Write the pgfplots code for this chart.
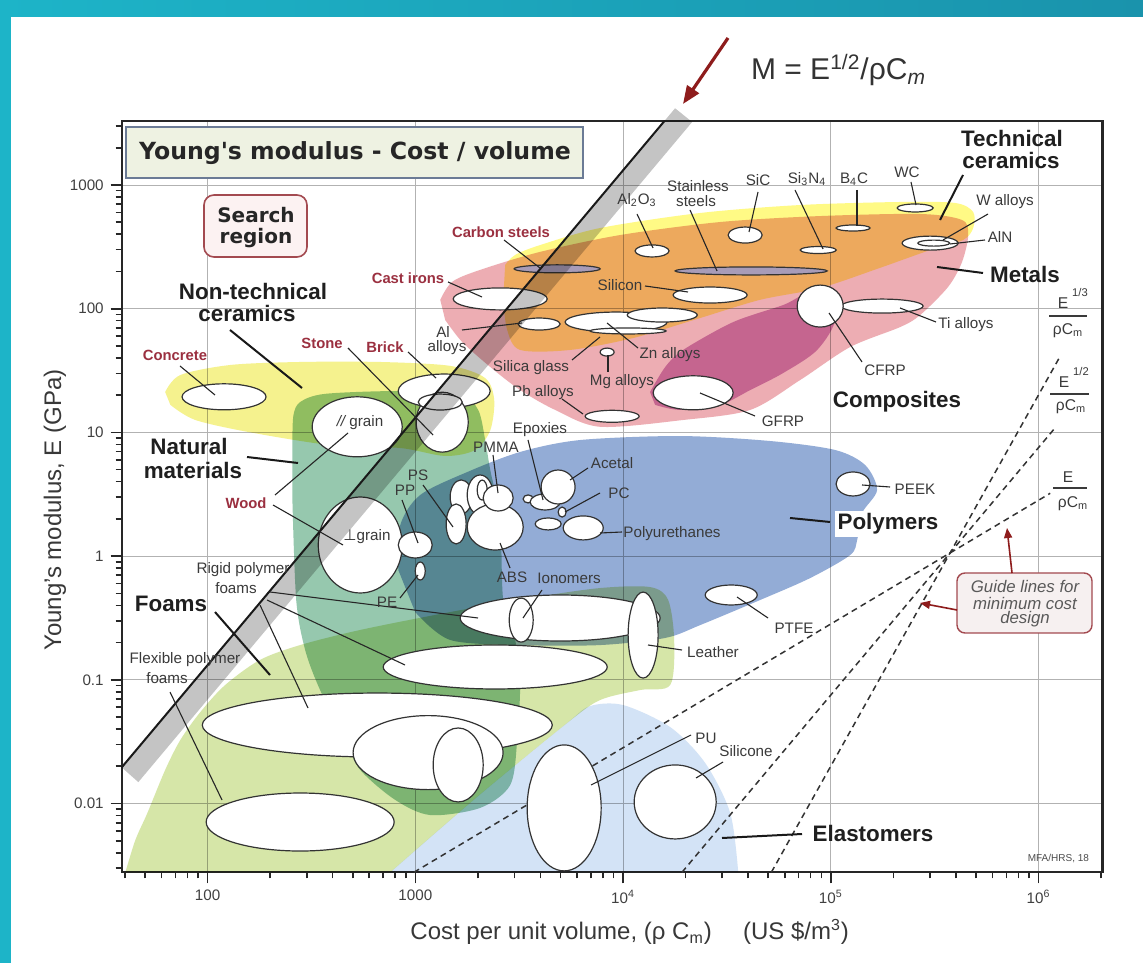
\documentclass[border=0pt]{standalone}
\usepackage{fontspec}
\setmainfont{Liberation Sans}
\newfontfamily\djv{DejaVu Sans}
\usepackage{pgfplots}
\pgfplotsset{compat=1.18}
\usetikzlibrary{arrows.meta}

\definecolor{teal1}{HTML}{1DB4C8}
\definecolor{teal2}{HTML}{1A93AC}
\definecolor{ntcer}{HTML}{F5F28E}
\definecolor{natur}{HTML}{96C8AE}
\definecolor{foam}{HTML}{D6E6A8}
\definecolor{polym}{HTML}{93ACD6}
\definecolor{elast}{HTML}{D3E3F6}
\definecolor{metal}{HTML}{EDADB3}
\definecolor{tcer}{HTML}{FFFA85}
\definecolor{compo}{HTML}{D596CC}
\definecolor{band}{HTML}{C4C4C4}
\definecolor{ellc}{HTML}{333333}
\definecolor{lbl}{HTML}{3A3A3A}
\definecolor{redlbl}{HTML}{9B3040}
\definecolor{arrowred}{HTML}{8E1C1C}
\definecolor{boxred}{HTML}{A34A50}
\definecolor{titlebg}{HTML}{EEF2E2}
\definecolor{titlebd}{HTML}{6B7B95}
\definecolor{searchbg}{HTML}{FCF2F2}
\definecolor{guidebg}{HTML}{F6F0F0}
\definecolor{steelfill}{HTML}{A89CB8}

% elliptical bubble mark; half-axes (pt) come from /bub/rx and /bub/ry
\pgfkeys{/bub/rx/.initial=5, /bub/ry/.initial=5}
\pgfdeclareplotmark{ell}{%
  \pgfpathellipse{\pgfpointorigin}%
    {\pgfqpoint{\pgfkeysvalueof{/bub/rx}pt}{0pt}}%
    {\pgfqpoint{0pt}{\pgfkeysvalueof{/bub/ry}pt}}%
  \pgfusepathqfillstroke}
% \bub[fill]{cost}{modulus}{rx}{ry}
\newcommand{\bub}[5][white]{%
  \addplot[only marks, mark=ell, /bub/rx=#4, /bub/ry=#5,
    mark options={draw=ellc, fill=#1, line width=0.6pt}] coordinates {(#2,#3)};}

\begin{document}
\begin{tikzpicture}
\useasboundingbox (0,0) rectangle (571.5pt,481.5pt);
\fill[white] (0,0) rectangle (571.5pt,481.5pt);
\begin{scope}[shift={(0pt,481.5pt)}, x=0.5pt, y=-0.5pt]
  \fill[teal1] (0,0) rectangle (11,963);
  \shade[left color=teal1, right color=teal2] (0,0) rectangle (1143,17);
\end{scope}

\begin{axis}[
  at={(60.85pt,45.35pt)}, anchor=south west,
  scale only axis, width=490.35pt, height=375.8pt,
  xmode=log, ymode=log,
  xmin=38.6, xmax=2.03e6, ymin=0.00278, ymax=3310,
  axis line style={line width=1.1pt, black!85},
  tick align=outside, tick pos=left,
  major tick length=5.5pt, minor tick length=3pt,
  every tick/.style={black!85, line width=0.8pt},
  xtick={100,1000,10000,100000,1000000},
  xticklabels={100,1000,10\textsuperscript{4},10\textsuperscript{5},10\textsuperscript{6}},
  minor xtick={40,50,60,70,80,90,200,300,400,500,600,700,800,900,2000,3000,4000,5000,6000,7000,8000,9000,20000,30000,40000,50000,60000,70000,80000,90000,200000,300000,400000,500000,600000,700000,800000,900000,2000000},
  ytick={0.01,0.1,1,10,100,1000},
  yticklabels={0.01,0.1,1,10,100,1000},
  minor ytick={0.003,0.004,0.005,0.006,0.007,0.008,0.009,0.02,0.03,0.04,0.05,0.06,0.07,0.08,0.09,0.2,0.3,0.4,0.5,0.6,0.7,0.8,0.9,2,3,4,5,6,7,8,9,20,30,40,50,60,70,80,90,200,300,400,500,600,700,800,900,2000,3000},
  grid=major, major grid style={black!30, line width=0.4pt},
  tick label style={font=\fontsize{7.6}{8}\selectfont, text=black!75},
  xlabel={Cost per unit volume, (ρ C\textsubscript{m})\hspace{1.3em}(US \$/m\textsuperscript{3})},
  ylabel={Young's modulus, E (GPa)},
  label style={font=\fontsize{12}{13}\selectfont, text=black!78},
  xlabel style={at={(axis description cs:0.518,-0.0794)}, anchor=center},
  ylabel style={at={(axis description cs:-0.068,0.482)}, anchor=center},
]
% material family envelopes
\addplot[draw=none, fill=ntcer, blend mode=multiply, smooth, tension=0.5] coordinates {
(62.5,21.2) (73.9,29.1) (129,35.1) (279,37.1) (678,37.1) (1472,34.5) (2169,27.5) (2397,18.3) (2294,10.4) (1941,7.21) (1393,6.45) (846,7.48) (389,7.91) (161,10.0) (87.3,12.6) (66.2,16.7)} -- cycle;
\addplot[draw=none, fill=natur, blend mode=multiply, smooth, tension=0.5] coordinates {
(256,8.68) (259,13.8) (279,17.6) (368,20.5) (846,21.6) (1644,20.1) (2007,15.2) (2169,8.68) (2294,4.97) (2562,1.96) (2648,0.442) (3024,0.210) (3197,0.0996) (3093,0.0326) (2862,0.0141) (2052,0.00922) (1180,0.00807) (800,0.0107) (543,0.0187) (460,0.0326) (348,0.0827) (295,0.174) (267,0.442) (256,2.84)} -- cycle;
\addplot[draw=none, fill=foam, blend mode=multiply, smooth, tension=0.5] coordinates {
(40.2,0.00278) (44.9,0.00507) (51.3,0.00838) (62.5,0.0187) (73.9,0.0326) (92.3,0.0549) (121.5,0.0908) (179,0.145) (279,0.191) (543,0.253) (1472,0.353) (3572,0.459) (7760,0.552) (13490,0.562) (16480,0.442) (17620,0.210) (16860,0.0908) (12080,0.0827) (7760,0.0687) (5380,0.0448) (2007,0.0115) (757,0.00278)} -- cycle;
\addplot[draw=none, fill=elast, blend mode=multiply, smooth, tension=0.5] coordinates {
(757,0.00278) (2007,0.0115) (5380,0.0448) (6950,0.0614) (10010,0.0625) (16860,0.0415) (24830,0.0213) (32800,0.00838) (35840,0.00278)} -- cycle;
\addplot[draw=none, fill=polym, blend mode=multiply, smooth, tension=0.5] coordinates {
(828,0.772) (846,1.78) (1056,3.12) (1782,4.79) (3197,6.95) (6220,8.68) (18830,9.35) (51050,8.52) (104900,7.21) (146300,5.45) (167000,3.42) (141500,2.23) (133900,1.35) (123900,1.02) (79600,0.665) (45700,0.442) (23500,0.277) (15960,0.218) (7760,0.191) (3197,0.191) (1472,0.210) (999,0.353)} -- cycle;
\addplot[draw=none, fill=metal, blend mode=multiply, smooth, tension=0.5] coordinates {
(1318,118) (1505,165) (2052,206) (3990,288) (9680,394) (29330,502) (88900,561) (269200,583) (428400,521) (458600,394) (428400,239) (367000,150) (269200,88.9) (215800,71.1) (123900,49.0) (71150,26.5) (40930,15.2) (19460,12.6) (7760,11.1) (4710,15.2) (3197,22.0) (2294,33.8) (1681,53.8) (1393,81.0)} -- cycle;
\addplot[draw=none, fill=tcer, blend mode=multiply, smooth, tension=0.5] coordinates {
(2707,226) (3024,272) (3990,327) (7760,449) (23500,594) (71150,689) (215800,729) (396500,716) (484600,605) (484600,449) (433200,359) (300700,298) (172700,214) (88900,147) (45700,118) (23500,84.1) (11170,57.9) (5562,46.4) (3197,46.4) (2768,67.3) (2648,118)} -- cycle;
\addplot[draw=none, fill=compo, blend mode=multiply, smooth, tension=0.5] coordinates {
(13490,21.2) (15960,33.8) (19460,46.4) (33910,78.0) (58950,107) (81380,134) (104900,84.1) (86000,46.4) (58950,30.2) (40930,22.0) (29330,16.7) (18830,15.2) (14260,16.7)} -- cycle;

% guide lines for minimum cost design
\addplot[black!80, line width=0.75pt, dash pattern=on 3pt off 2.2pt] coordinates {(984,0.00278) (1138000,3.22)};
\addplot[black!80, line width=0.75pt, dash pattern=on 3pt off 2.2pt] coordinates {(19210,0.00278) (1200000,10.86)};
\addplot[black!80, line width=0.75pt, dash pattern=on 3pt off 2.2pt] coordinates {(51730,0.00278) (1269000,41.1)};

% material bubbles: cost (US$/m^3), modulus (GPa), half-axes (pt)
\bub{120}{19.4}{21}{6.5}
\bub{1377}{21.6}{23}{8.5}
\bub{1347}{12.1}{13}{15}
\bub{1318}{17.6}{11}{4}
\bub{525}{11.1}{22.5}{15}
\bub{543}{1.23}{21}{24}
\bub{999}{1.23}{8.5}{6.5}
\bub{1056}{0.758}{2.5}{4.5}
\bub{1662}{3.01}{5.5}{8.5}
\bub{2052}{3.12}{6.5}{10}
\bub{2424}{1.72}{14}{11.5}
\bub{1572}{1.82}{5}{10}
\bub{2098}{3.42}{2.5}{5}
\bub{2505}{2.95}{7.5}{6.5}
\bub{3491}{2.90}{2.5}{2}
\bub{4216}{2.74}{7.5}{4}
\bub{4867}{3.62}{8.5}{8.5}
\bub{4360}{1.82}{6.5}{3}
\bub{5090}{2.27}{2}{2.5}
\bub{6430}{1.69}{10}{6}
\bub{4979}{0.316}{50}{11.5}
\bub{3233}{0.304}{6}{11}
\bub{12490}{0.230}{7.5}{21.5}
\bub{33160}{0.485}{13}{5}
\bub{128000}{3.83}{8.5}{6}
\bub{2424}{0.127}{56}{11}
\bub{656}{0.0431}{87.5}{16}
\bub{1152}{0.0258}{37.5}{18.5}
\bub{1608}{0.0205}{12.5}{18.5}
\bub{279}{0.00709}{47}{14.5}
\bub{5205}{0.00922}{18.5}{31.5}
\bub{17820}{0.0103}{20.5}{18.5}
\bub{2562}{120}{23.5}{5.5}
\bub{13790}{293}{8.5}{3}
\bub{38700}{394}{8.5}{4}
\bub{26250}{129}{18.5}{4}
\bub{3946}{75.2}{10.5}{3}
\bub{9260}{78.0}{25.5}{5}
\bub{15440}{88.9}{17.5}{3.5}
\bub{10570}{66.1}{19}{1.5}
\bub{8380}{44.6}{3.5}{2}
\bub{8860}{13.5}{13.5}{3}
\bub{21750}{20.9}{20}{8.5}
\bub{176600}{105}{20.5}{3.5}
\bub{88900}{105}{11.5}{10.5}
\bub{86960}{298}{9}{1.75}
\bub{128000}{449}{8.5}{1.5}
\bub{254700}{652}{9}{2}
\bub{300700}{339}{14}{3.5}
\bub{313000}{339}{8}{1.5}
\bub[steelfill]{4816}{210}{21.5}{2}
\bub[steelfill]{41380}{202}{38}{2}
\end{axis}

% index line M = E^{1/2}/(rho C_m) with its band
\begin{axis}[
  at={(60.85pt,45.35pt)}, anchor=south west,
  scale only axis, width=490.35pt, height=375.8pt,
  xmode=log, ymode=log,
  xmin=38.6, xmax=2.03e6, ymin=0.00278, ymax=3310,
  hide axis, clip=false]
\addplot[draw=none, fill=band, blend mode=multiply] coordinates {(38.6,0.0196) (17800,4169) (21500,3230) (46.4,0.0149)} -- cycle;
\addplot[black!90, line width=1pt] coordinates {(38.6,0.0196) (15870,3310)};
\end{axis}

% annotations
\begin{scope}[shift={(0pt,481.5pt)}, x=0.5pt, y=-0.5pt,
  mat/.style={font=\fontsize{7.6}{8.4}\selectfont, text=lbl, inner sep=0.5pt},
  red/.style={font=\fontsize{7.4}{8}\selectfont\bfseries, text=redlbl, inner sep=0.5pt},
  grp/.style={font=\fontsize{11.2}{12}\selectfont\bfseries, text=black!88, inner sep=0.5pt},
  ld/.style={draw=black!85, line width=0.55pt},
  gl/.style={draw=black!90, line width=1pt}]

% title and search region
\draw[titlebd, line width=0.8pt, fill=titlebg] (126,127) rectangle (583,178);
\node[font=\djv\bfseries\fontsize{11.8}{12}\selectfont, text=black!85] at (355,153) {Young's modulus - Cost / volume};
\draw[boxred, line width=0.8pt, fill=searchbg, rounded corners=5pt] (204,195) rectangle (307,257);
\node[font=\djv\bfseries\fontsize{10}{11}\selectfont, text=black!85] at (256,215) {Search};
\node[font=\djv\bfseries\fontsize{10}{11}\selectfont, text=black!85] at (256,238) {region};

% index label and arrow
\draw[arrowred, line width=1.6pt, -{Triangle[length=9pt,width=7pt]}] (728,38) -- (683,104);
\node[anchor=base west, font=\fontsize{15}{16}\selectfont, text=black!80] at (744,80) {M = E\textsuperscript{1/2}/ρC\textsubscript{\itshape m}};

% leader lines
\draw[ld] (180,366) -- (215,395);
\draw[ld] (348,348) -- (433,435);
\draw[ld] (408,352) -- (436,378);
\draw[ld] (462,330) -- (522,323);
\draw[ld] (448,282) -- (482,297);
\draw[ld] (504,240) -- (540,268);
\draw[ld] (637,214) -- (653,248);
\draw[ld] (690,210) -- (717,271);
\draw[ld] (758,192) -- (749,232);
\draw[ld] (795,190) -- (823,249);
\draw[ld] (857,190) -- (857,226);
\draw[ld] (911,182) -- (916,205);
\draw[ld] (988,214) -- (943,240);
\draw[ld] (985,240) -- (950,244);
\draw[ld] (936,322) -- (900,308);
\draw[ld] (862,362) -- (829,313);
\draw[ld] (645,286) -- (688,292);
\draw[ld] (638,348) -- (607,323);
\draw[ld] (572,360) -- (600,337);
\draw[ld] (608,372) -- (608,355);
\draw[ld] (562,399) -- (583,414);
\draw[ld] (755,416) -- (700,393);
\draw[ld] (890,487) -- (862,485);
\draw[ld] (768,618) -- (737,597);
\draw[ld] (682,650) -- (648,645);
\draw[ld] (542,590) -- (523,618);
\draw[ld] (510,568) -- (500,543);
\draw[ld] (493,455) -- (498,493);
\draw[ld] (528,440) -- (543,500);
\draw[ld] (588,468) -- (570,480);
\draw[ld] (600,493) -- (565,512);
\draw[ld] (622,532) -- (600,533);
\draw[ld] (423,485) -- (453,527);
\draw[ld] (402,500) -- (418,543);
\draw[ld] (400,598) -- (418,575);
\draw[ld] (275,495) -- (348,433);
\draw[ld] (273,505) -- (343,545);
\draw[ld] (270,592) -- (478,618);
\draw[ld] (267,600) -- (405,665);
\draw[ld] (260,605) -- (308,708);
\draw[ld] (170,692) -- (222,800);
\draw[ld] (691,735) -- (591,785);
\draw[ld] (723,762) -- (696,778);
\draw[gl] (230,330) -- (302,388);
\draw[gl] (247,457) -- (298,463);
\draw[gl] (215,612) -- (270,675);
\draw[gl] (963,175) -- (940,220);
\draw[gl] (983,273) -- (937,267);
\draw[gl] (830,522) -- (790,518);
\draw[gl] (722,838) -- (802,834);

% family names
\node[grp] at (1012,139) {Technical};
\node[grp] at (1011,161) {ceramics};
\node[grp] at (1025,275) {Metals};
\node[grp] at (897,402) {Composites};
\node[grp, fill=white, inner sep=1.5pt] at (888,524) {Polymers};
\node[grp] at (253,292) {Non-technical};
\node[grp] at (247,314) {ceramics};
\node[grp] at (189,446) {Natural};
\node[grp] at (193,470) {materials};
\node[grp] at (171,604) {Foams};
\node[grp] at (873,833) {Elastomers};

% material names
\node[mat] at (637,200) {Al\textsubscript{2}O\textsubscript{3}};
\node[mat] at (698,186) {Stainless};
\node[mat] at (696,201) {steels};
\node[mat] at (758,180) {SiC};
\node[mat] at (807,179) {Si\textsubscript{3}N\textsubscript{4}};
\node[mat] at (854,179) {B\textsubscript{4}C};
\node[mat] at (907,172) {WC};
\node[mat] at (1005,202) {W alloys};
\node[mat] at (1000,237) {AlN};
\node[mat] at (620,285) {Silicon};
\node[mat] at (670,355) {Zn alloys};
\node[mat] at (531,368) {Silica glass};
\node[mat] at (622,382) {Mg alloys};
\node[mat] at (543,393) {Pb alloys};
\node[mat] at (443,332) {Al};
\node[mat] at (447,348) {alloys};
\node[mat] at (966,325) {Ti alloys};
\node[mat] at (885,370) {CFRP};
\node[mat] at (783,421) {GFRP};
\node[mat] at (915,489) {PEEK};
\node[mat] at (794,628) {PTFE};
\node[mat] at (713,652) {Leather};
\node[mat] at (569,578) {Ionomers};
\node[mat] at (512,577) {ABS};
\node[mat] at (496,447) {PMMA};
\node[mat] at (540,430) {Epoxies};
\node[mat] at (612,463) {Acetal};
\node[mat] at (619,493) {PC};
\node[mat] at (672,534) {Polyurethanes};
\node[mat] at (418,475) {PS};
\node[mat] at (405,490) {PP};
\node[mat] at (387,602) {PE};
\node[mat] at (243,570) {Rigid polymer};
\node[mat] at (236,588) {foams};
\node[mat] at (185,660) {Flexible polymer};
\node[mat] at (167,678) {foams};
\node[mat] at (706,738) {PU};
\node[mat] at (746,751) {Silicone};
\node[mat] at (360,423) {{\itshape //} grain};
\node[mat] at (367,537) {{\djv ⊥}grain};

\node[red] at (501,232) {Carbon steels};
\node[red] at (408,278) {Cast irons};
\node[red] at (175,355) {Concrete};
\node[red] at (322,343) {Stone};
\node[red] at (385,347) {Brick};
\node[red] at (246,503) {Wood};

% guide line labels
\begin{scope}[every node/.style={font=\fontsize{7.8}{8}\selectfont, text=lbl, inner sep=0pt}]
\node at (1063,303) {E};
\node[font=\fontsize{5.6}{6}\selectfont] at (1080,293) {1/3};
\draw[lbl, line width=0.6pt] (1049,316) -- (1087,316);
\node at (1068,331) {ρC\textsubscript{m}};
\node at (1064,382) {E};
\node[font=\fontsize{5.6}{6}\selectfont] at (1081,372) {1/2};
\draw[lbl, line width=0.6pt] (1050,394) -- (1089,394);
\node at (1071,407) {ρC\textsubscript{m}};
\node at (1068,477) {E};
\draw[lbl, line width=0.6pt] (1053,488) -- (1087,488);
\node at (1073,504) {ρC\textsubscript{m}};
\end{scope}

\draw[boxred, line width=0.7pt, fill=guidebg, rounded corners=4pt] (957,573) rectangle (1092,633);
\node[font=\fontsize{8.4}{9}\selectfont\itshape, text=black!65] at (1025,587) {Guide lines for};
\node[font=\fontsize{8.4}{9}\selectfont\itshape, text=black!65] at (1025,603) {minimum cost};
\node[font=\fontsize{8.4}{9}\selectfont\itshape, text=black!65] at (1025,619) {design};
\draw[arrowred, line width=0.8pt, -{Triangle[length=5pt,width=4pt]}] (1012,573) -- (1007,528);
\draw[arrowred, line width=0.8pt, -{Triangle[length=5pt,width=4pt]}] (957,610) -- (920,603);

\node[anchor=east, font=\fontsize{5}{5}\selectfont, text=black!70] at (1096,859) {MFA/HRS, 18};
\end{scope}
\end{tikzpicture}
\end{document}
